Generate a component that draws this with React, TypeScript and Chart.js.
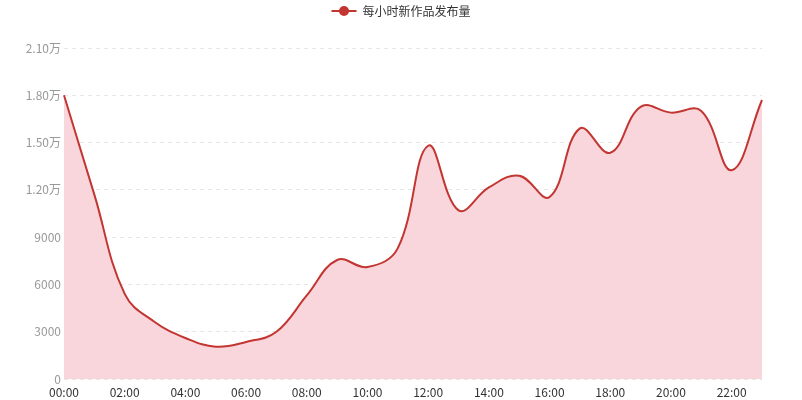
import React, { useEffect, useRef } from "react";
import { Chart, registerables } from "chart.js";

Chart.register(...registerables);

// Hourly publishing volume of new works
const hours: string[] = [
  "00:00", "01:00", "02:00", "03:00", "04:00", "05:00", "06:00", "07:00",
  "08:00", "09:00", "10:00", "11:00", "12:00", "13:00", "14:00", "15:00",
  "16:00", "17:00", "18:00", "19:00", "20:00", "21:00", "22:00", "23:00",
];
const newWorks: number[] = [
  18000, 11700, 5400, 3600, 2600, 2050, 2350, 3000,
  5300, 7550, 7100, 8300, 14800, 10700, 12150, 12900,
  11550, 15900, 14350, 17270, 16900, 17000, 13250, 17700,
];
const seriesName = "每小时新作品发布量";
const yMax = 21000;
const yStep = 3000;

const LINE_COLOR = "#c23531";
const FILL_COLOR = "#f9d6dc";
const FONT = "'Noto Sans CJK SC', 'Noto Sans', sans-serif";

const formatValue = (v: number): string =>
  v >= 10000 ? (v / 10000).toFixed(2) + "万" : String(v);

// Legend drawn as a line with a dot in the middle, followed by the series name
const legendPlugin = {
  id: "lineDotLegend",
  afterDraw(chart: Chart) {
    const ctx = chart.ctx;
    ctx.save();
    ctx.font = `12px ${FONT}`;
    const textW = ctx.measureText(seriesName).width;
    const iconW = 25;
    const gap = 6;
    const total = iconW + gap + textW;
    const x0 = chart.width / 2 - total / 2;
    const cy = 11;
    ctx.strokeStyle = LINE_COLOR;
    ctx.lineWidth = 2;
    ctx.beginPath();
    ctx.moveTo(x0, cy);
    ctx.lineTo(x0 + iconW, cy);
    ctx.stroke();
    ctx.fillStyle = LINE_COLOR;
    ctx.beginPath();
    ctx.arc(x0 + iconW / 2, cy, 5, 0, Math.PI * 2);
    ctx.fill();
    ctx.fillStyle = "#333";
    ctx.textBaseline = "middle";
    ctx.textAlign = "left";
    ctx.fillText(seriesName, x0 + iconW + gap, cy);
    ctx.restore();
  },
};

export default function App() {
  const canvasRef = useRef<HTMLCanvasElement | null>(null);

  useEffect(() => {
    if (!canvasRef.current) return;
    const chart = new Chart(canvasRef.current, {
      type: "line",
      data: {
        labels: hours,
        datasets: [
          {
            label: seriesName,
            data: newWorks,
            borderColor: LINE_COLOR,
            backgroundColor: FILL_COLOR,
            borderWidth: 2,
            fill: "origin",
            tension: 0.4,
            pointRadius: 0,
            pointHoverRadius: 0,
          },
        ],
      },
      plugins: [legendPlugin],
      options: {
        animation: false,
        responsive: false,
        maintainAspectRatio: false,
        layout: { padding: { top: 48, right: 40, bottom: 0, left: 0 } },
        plugins: {
          legend: { display: false },
          tooltip: { enabled: false },
        },
        scales: {
          x: {
            offset: false,
            grid: { display: false, drawTicks: false },
            border: { display: false },
            ticks: {
              autoSkip: false,
              maxRotation: 0,
              padding: 6,
              color: "#333",
              font: { size: 12, family: FONT },
              callback: (_v: any, i: number) => (i % 2 === 0 ? hours[i] : ""),
            },
            afterFit: (scale: any) => {
              scale.height = 21;
            },
          },
          y: {
            min: 0,
            max: yMax,
            grid: {
              color: "#e6e6e6",
              drawTicks: false,
            },
            border: { display: false, dash: [4, 4] },
            ticks: {
              stepSize: yStep,
              padding: 3,
              color: "#999",
              font: { size: 12, family: FONT },
              callback: (v: any) => formatValue(Number(v)),
            },
            afterFit: (scale: any) => {
              scale.width = 64;
            },
          },
        },
      },
    });
    return () => chart.destroy();
  }, []);

  return (
    <div style={{ position: "fixed", left: 0, top: 0, width: 802, height: 400, background: "#fff" }}>
      <canvas ref={canvasRef} width={802} height={400} style={{ display: "block" }} />
    </div>
  );
}
